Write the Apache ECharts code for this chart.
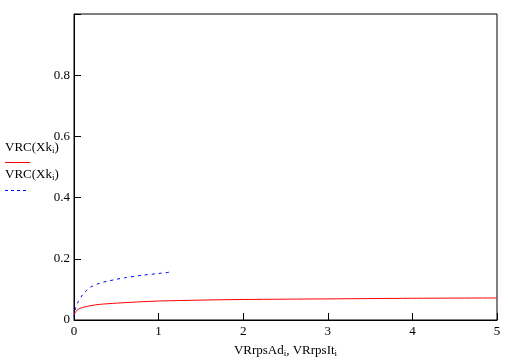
<!DOCTYPE html>
<html><head><meta charset="utf-8">
<script src="https://cdn.jsdelivr.net/npm/echarts@6/dist/echarts.min.js"></script>
<style>html,body{margin:0;padding:0;background:#fff}#c{width:508px;height:360px}</style>
</head><body><div id="c"></div>
<script>
const redX = [0, 0.02, 0.05, 0.1, 0.2, 0.3, 0.5, 0.75, 1, 1.5, 2, 3, 4, 5];
const redY = [0.015, 0.027, 0.035, 0.041, 0.047, 0.051, 0.055, 0.059, 0.062, 0.065, 0.067, 0.069, 0.071, 0.072];
const blueX = [0, 0.02, 0.05, 0.1, 0.15, 0.2, 0.3, 0.4, 0.5, 0.6, 0.8, 1.0, 1.15];
const blueY = [0.01, 0.04, 0.06, 0.082, 0.097, 0.108, 0.12, 0.127, 0.133, 0.138, 0.146, 0.152, 0.157];
const xTicks = ['0', '1', '2', '3', '4', '5'];
const yTicks = ['0', '0.2', '0.4', '0.6', '0.8', ''];

const font = '"Liberation Serif", "DejaVu Serif", serif';
const chart = echarts.init(document.getElementById('c'), null, {renderer: 'canvas'});
const rich = {n: {fontFamily: font, fontSize: 13, color: '#000'}, s: {fontFamily: font, fontSize: 9, color: '#000', verticalAlign: 'bottom', padding: [6, 0, 0, 0]}};
chart.setOption({
  animation: false,
  grid: {left: 74, right: 11, top: 14, bottom: 40, show: true, borderColor: '#000', borderWidth: 1, containLabel: false, outerBoundsMode: 'none'},
  xAxis: {
    type: 'value', min: 0, max: 5, interval: 1,
    axisLine: {lineStyle: {color: '#000', width: 1}},
    axisTick: {inside: true, length: 7, lineStyle: {color: '#000'}},
    splitLine: {show: false},
    axisLabel: {fontFamily: font, fontSize: 13, color: '#000', margin: 5, formatter: (v) => xTicks[Math.round(v)]},
    name: '{n|VRrpsAd}{s|i}{n|, VRrpsIt}{s|i}', nameLocation: 'middle', nameGap: 23,
    nameTextStyle: {rich: rich}
  },
  yAxis: {
    type: 'value', min: 0, max: 1, interval: 0.2,
    axisLine: {lineStyle: {color: '#000', width: 1}},
    axisTick: {inside: true, length: 7, lineStyle: {color: '#000'}},
    splitLine: {show: false},
    axisLabel: {fontFamily: font, fontSize: 13, color: '#000', margin: 4, formatter: (v) => yTicks[Math.round(v * 5)]}
  },
  graphic: [
    {type: 'text', left: 5, top: 141, style: {text: '{n|VRC(Xk}{s|i}{n|)}', rich: rich}},
    {type: 'line', shape: {x1: 5, y1: 162.5, x2: 30, y2: 162.5}, style: {stroke: '#ff0000', lineWidth: 1}},
    {type: 'text', left: 5, top: 168, style: {text: '{n|VRC(Xk}{s|i}{n|)}', rich: rich}},
    {type: 'line', shape: {x1: 5, y1: 190.5, x2: 26, y2: 190.5}, style: {stroke: '#0000ff', lineWidth: 1, lineDash: [3, 3]}}
  ],
  series: [
    {type: 'line', data: redX.map((x, i) => [x, redY[i]]), showSymbol: false, smooth: 0.3,
     lineStyle: {color: '#ff0000', width: 1}},
    {type: 'line', data: blueX.map((x, i) => [x, blueY[i]]), showSymbol: false, smooth: 0.3,
     lineStyle: {color: '#0000ff', width: 1, type: [3, 4]}}
  ]
});
</script></body></html>
